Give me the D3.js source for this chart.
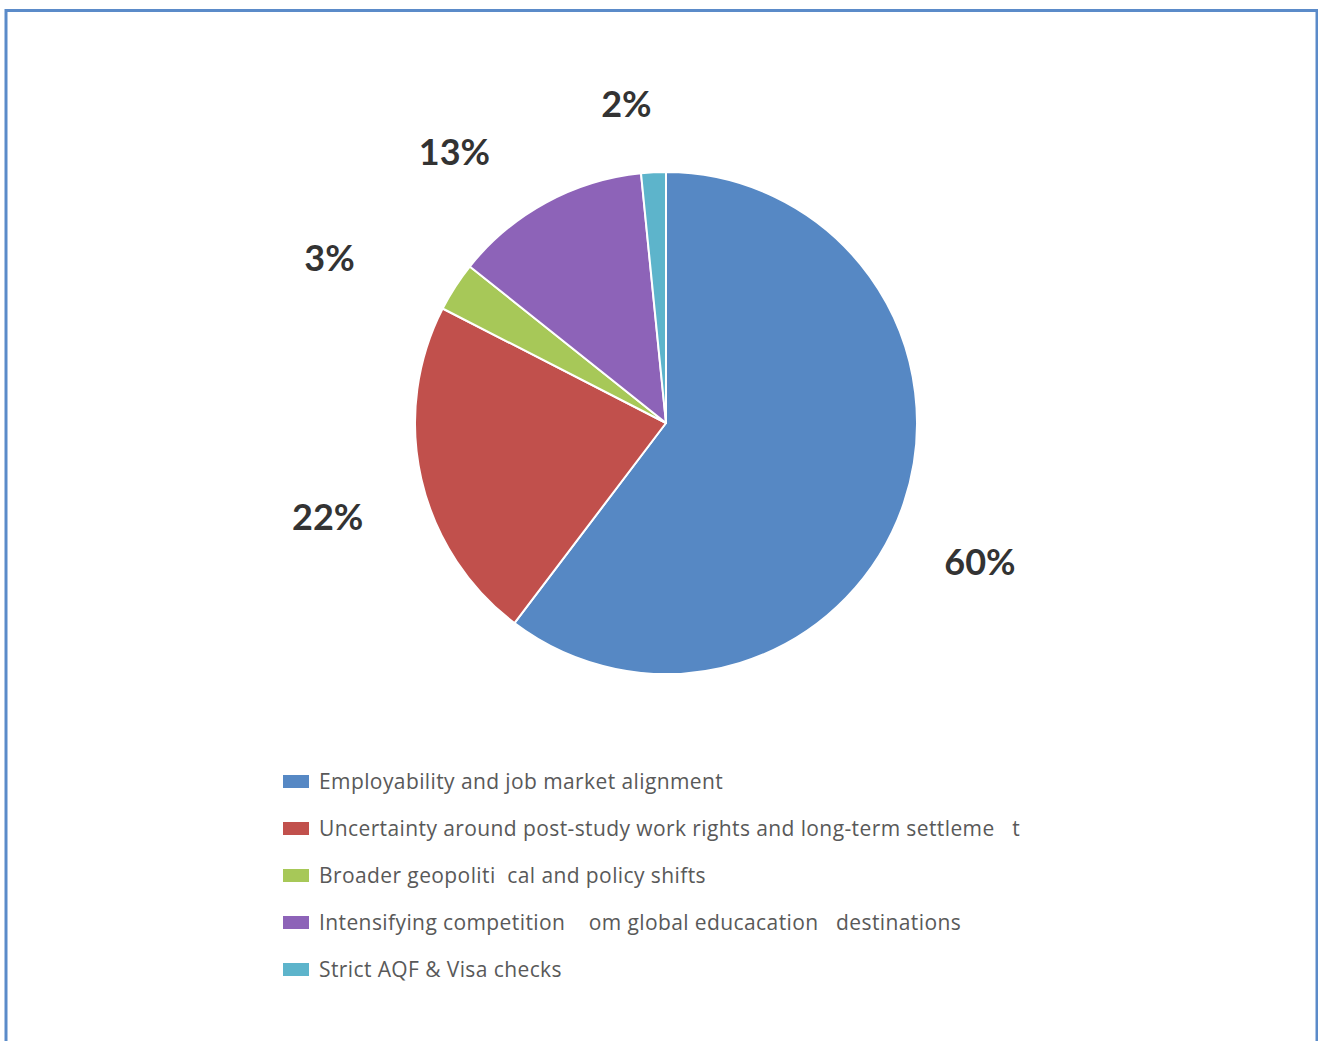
<!DOCTYPE html>
<html>
<head>
<meta charset="utf-8">
<script src="https://cdn.jsdelivr.net/npm/d3@7"></script>
<style>
  html, body { margin: 0; padding: 0; background: #fff; }
  svg { display: block; }
</style>
</head>
<body>
<svg id="chart" width="1318" height="1041"></svg>
<script>
// Survey responses: main concerns (respondent counts)
const categories = [
  "Employability and job market alignment",
  "Uncertainty around post-study work rights and long-term settleme   t",
  "Broader geopoliti  cal and policy shifts",
  "Intensifying competition    om global educacation   destinations",
  "Strict AQF & Visa checks"
];
const counts = [38, 14, 2, 8, 1];
const colors = ["#5688C4", "#C1504C", "#A7C858", "#8D63B8", "#5DB4CB"];
// manual adjustments of the outside labels: [angle in degrees, extra radius]
const labelNudge = [[6.5, 4], [-3.5, 10], [-6, 45], [-7.7, 15], [-4, 0]];

const svg = d3.select("#chart");

// outer frame
svg.append("rect")
  .attr("x", 6).attr("y", 10.5)
  .attr("width", 1311).attr("height", 1100)
  .attr("fill", "none")
  .attr("stroke", "#5B8BC9")
  .attr("stroke-width", 3);

const cx = 666, cy = 423, r = 251;
const total = d3.sum(counts);
const fmt = d3.format(".0%");

const pie = d3.pie().sort(null).value(d => d)(counts);
const arc = d3.arc().innerRadius(0).outerRadius(r);

const g = svg.append("g").attr("transform", `translate(${cx},${cy})`);

g.selectAll("path.slice")
  .data(pie)
  .join("path")
  .attr("class", "slice")
  .attr("d", arc)
  .attr("fill", (d, i) => colors[i])
  .attr("stroke", "#fff")
  .attr("stroke-width", 2)
  .attr("stroke-linejoin", "round");

// outside-end percentage labels
const anchorR = r + 56;
g.selectAll("text.pct")
  .data(pie)
  .join("text")
  .attr("class", "pct")
  .text(d => fmt(d.value / total))
  .attr("font-family", "Lato, 'Open Sans', sans-serif")
  .attr("font-weight", "bold")
  .attr("font-size", 36)
  .attr("fill", "#333333")
  .attr("text-anchor", "middle")
  .attr("dominant-baseline", "central")
  .each(function (d, i) {
    const bb = this.getBBox();
    const a = (d.startAngle + d.endAngle) / 2 + labelNudge[i][0] * Math.PI / 180;
    const rr = anchorR + labelNudge[i][1];
    const ux = Math.sin(a), uy = -Math.cos(a);
    d3.select(this)
      .attr("x", rr * ux + ux * bb.width / 2)
      .attr("y", rr * uy + uy * 15);
  });

// legend
const legend = svg.append("g").attr("transform", "translate(283,781)");
const rowH = 47;
const rows = legend.selectAll("g.row")
  .data(categories)
  .join("g")
  .attr("class", "row")
  .attr("transform", (d, i) => `translate(0,${i * rowH})`);

rows.append("rect")
  .attr("x", 0).attr("y", -6)
  .attr("width", 26).attr("height", 13)
  .attr("fill", (d, i) => colors[i]);

rows.append("text")
  .attr("x", 36).attr("y", 0)
  .attr("dominant-baseline", "central")
  .attr("font-family", "'Open Sans', sans-serif")
  .attr("font-size", 21)
  .attr("letter-spacing", 0.4)
  .attr("fill", "#595959")
  .style("white-space", "pre")
  .attr("xml:space", "preserve")
  .text(d => d);
</script>
</body>
</html>
